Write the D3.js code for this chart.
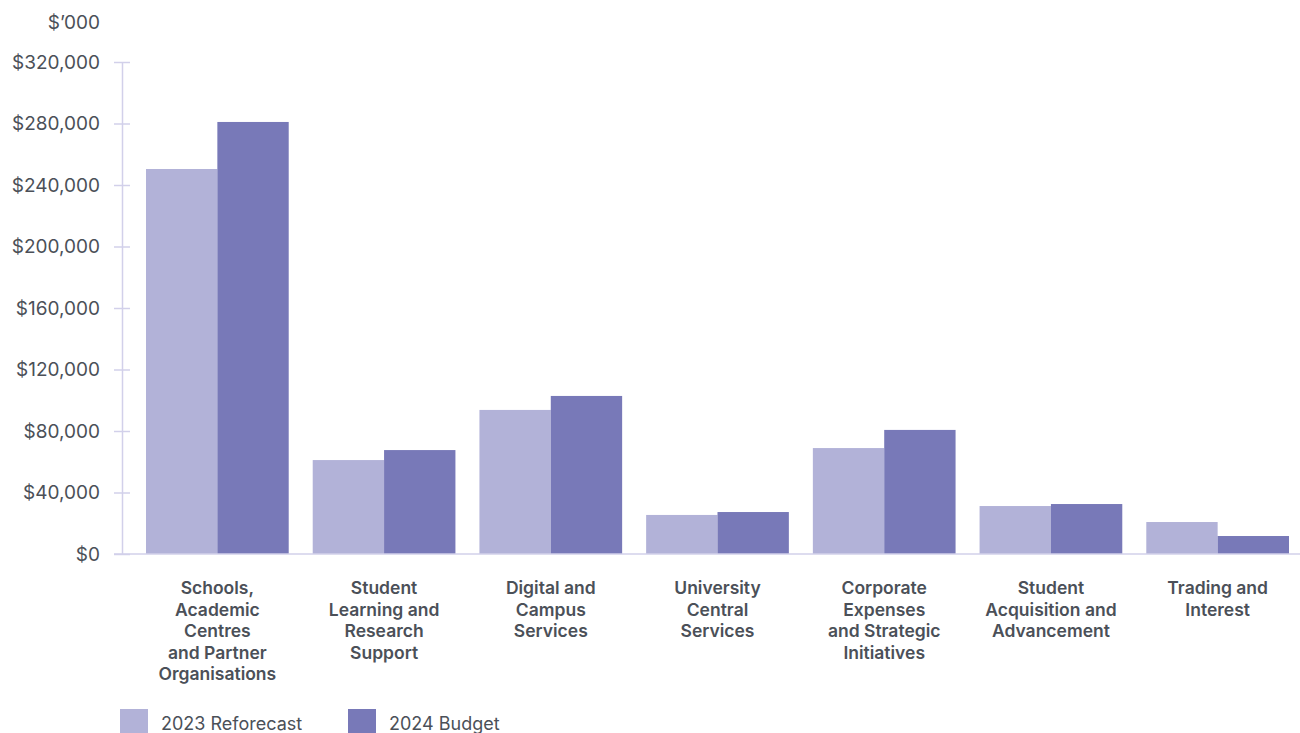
<!DOCTYPE html>
<html>
<head>
<meta charset="utf-8">
<script src="https://cdn.jsdelivr.net/npm/d3@7"></script>
<style>
  html, body { margin: 0; padding: 0; background: #ffffff; }
  svg { display: block; }
  text { font-family: "Inter", "Roboto", sans-serif; fill: #4b5058; }
</style>
</head>
<body>
<svg id="chart" width="1300" height="733"></svg>
<script>
// Spending by area, $'000
const categories = [
  ["Schools,", "Academic", "Centres", "and Partner", "Organisations"],
  ["Student", "Learning and", "Research", "Support"],
  ["Digital and", "Campus", "Services"],
  ["University", "Central", "Services"],
  ["Corporate", "Expenses", "and Strategic", "Initiatives"],
  ["Student", "Acquisition and", "Advancement"],
  ["Trading and", "Interest"]
];
const seriesNames = ["2023 Reforecast", "2024 Budget"];
const reforecast2023 = [250400, 61100, 93700, 25400, 68900, 31200, 20800];
const budget2024 = [281000, 67600, 102800, 27300, 80700, 32500, 11700];
const yTicks = [0, 40000, 80000, 120000, 160000, 200000, 240000, 280000, 320000];
const unitLabel = "$\u2019000";

const colors = ["#b2b2d8", "#7879b8"];
const axisColor = "#d2d0ea";

const svg = d3.select("#chart");
const margin = { top: 62, bottom: 554, left: 122 };

const catIndex = d3.range(categories.length);
const x = d3.scaleBand()
  .domain(catIndex)
  .range([134, 1301])
  .paddingInner(0.144)
  .paddingOuter(0.072);

const xSub = d3.scaleBand()
  .domain([0, 1])
  .range([0, x.bandwidth()]);

const y = d3.scaleLinear()
  .domain([0, 320000])
  .range([margin.bottom, margin.top]);

const fmt = v => "$" + d3.format(",")(v);

// y axis
const yAxis = svg.append("g")
  .attr("transform", `translate(${margin.left},0)`)
  .call(d3.axisLeft(y).tickValues(yTicks).tickFormat(fmt).tickSize(0).tickPadding(22));
yAxis.select(".domain").attr("stroke", axisColor).attr("stroke-width", 1.5);
yAxis.selectAll(".tick text").attr("font-size", 19).attr("fill", "#4b5058")
  .attr("font-family", "Inter, Roboto, sans-serif");
yAxis.selectAll(".tick").append("line")
  .attr("x1", -8).attr("x2", 8)
  .attr("stroke", axisColor).attr("stroke-width", 1.5);
yAxis.selectAll(".tick").filter(d => d === 0).select("line").remove();

svg.append("text")
  .attr("x", 100).attr("y", 22)
  .attr("text-anchor", "end").attr("dominant-baseline", "central")
  .attr("font-size", 19)
  .text(unitLabel);

// bars
const rows = catIndex.map(i => [reforecast2023[i], budget2024[i]]);
const groups = svg.append("g").selectAll("g")
  .data(rows)
  .join("g")
  .attr("transform", (d, i) => `translate(${x(i)},0)`);
groups.selectAll("rect")
  .data(d => d.map((v, j) => ({ v, j })))
  .join("rect")
  .attr("x", d => xSub(d.j))
  .attr("width", xSub.bandwidth())
  .attr("y", d => y(d.v))
  .attr("height", d => y(0) - y(d.v))
  .attr("fill", d => colors[d.j]);

// baseline
svg.append("line")
  .attr("x1", 114).attr("x2", 1300)
  .attr("y1", y(0)).attr("y2", y(0))
  .attr("stroke", axisColor).attr("stroke-width", 1.5);

// category labels
const labels = svg.append("g").selectAll("text")
  .data(categories)
  .join("text")
  .attr("x", (d, i) => x(i) + x.bandwidth() / 2)
  .attr("y", 588)
  .attr("text-anchor", "middle")
  .attr("font-size", 17.5)
  .attr("font-weight", 600);
labels.selectAll("tspan")
  .data(d => d)
  .join("tspan")
  .attr("x", function () { return this.parentNode.getAttribute("x"); })
  .attr("dy", (d, k) => k === 0 ? "0.35em" : 21.5)
  .text(d => d);

// legend
const legendX = [120, 348];
const legend = svg.append("g").selectAll("g")
  .data(seriesNames)
  .join("g")
  .attr("transform", (d, i) => `translate(${legendX[i]},709)`);
legend.append("rect")
  .attr("width", 28).attr("height", 28)
  .attr("fill", (d, i) => colors[i]);
legend.append("text")
  .attr("x", 41).attr("y", 14)
  .attr("dominant-baseline", "central")
  .attr("font-size", 18)
  .text(d => d);
</script>
</body>
</html>
